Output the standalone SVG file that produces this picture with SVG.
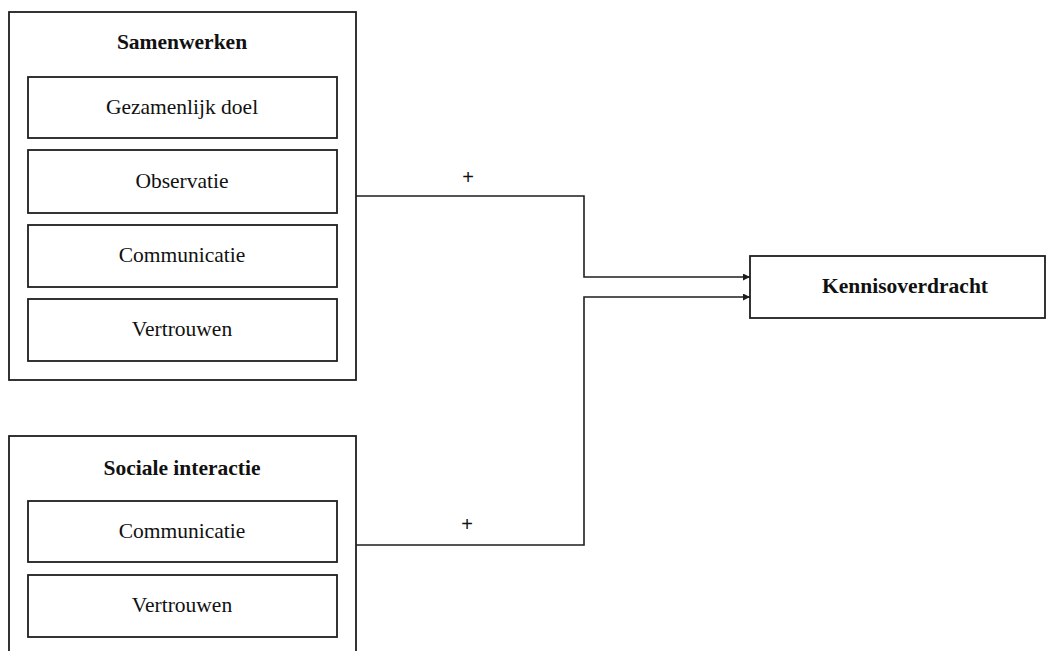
<svg xmlns="http://www.w3.org/2000/svg" width="1047" height="651" viewBox="0 0 1047 651">
<style>
.box{fill:#fff;stroke:#1e1e1e;stroke-width:1.8}
.t{font-family:"Liberation Serif","Times New Roman",serif;font-size:21.5px;fill:#111;text-anchor:middle}
.b{font-weight:bold}
.plus{font-family:"Liberation Sans",Arial,sans-serif;font-size:20px;fill:#111;text-anchor:middle}
.c{fill:none;stroke:#1e1e1e;stroke-width:1.6}
</style>
<defs>
<marker id="arr" viewBox="0 0 10 10" refX="10" refY="5" markerWidth="8" markerHeight="7" markerUnits="userSpaceOnUse" orient="auto">
<path d="M0,0 L10,5 L0,10 z" fill="#1e1e1e"/>
</marker>
</defs>
<rect width="1047" height="651" fill="#fff"/>
<g id="samenwerken">
<rect class="box" x="9" y="12" width="347" height="368"/>
<text class="t b" x="182" y="49">Samenwerken</text>
<rect class="box" x="28" y="77" width="309" height="61"/>
<text class="t" x="182" y="114">Gezamenlijk doel</text>
<rect class="box" x="28" y="150" width="309" height="63"/>
<text class="t" x="182" y="188">Observatie</text>
<rect class="box" x="28" y="225" width="309" height="62"/>
<text class="t" x="182" y="262">Communicatie</text>
<rect class="box" x="28" y="299" width="309" height="62"/>
<text class="t" x="182" y="336">Vertrouwen</text>
</g>
<g id="sociale-interactie">
<rect class="box" x="9" y="436" width="347" height="230"/>
<text class="t b" x="182" y="475">Sociale interactie</text>
<rect class="box" x="28" y="501" width="309" height="61"/>
<text class="t" x="182" y="538">Communicatie</text>
<rect class="box" x="28" y="575" width="309" height="62"/>
<text class="t" x="182" y="612">Vertrouwen</text>
</g>
<g id="kennisoverdracht">
<rect class="box" x="750" y="256" width="295" height="62"/>
<text class="t b" x="905" y="293">Kennisoverdracht</text>
</g>
<g id="connectors">
<polyline class="c" points="356,196 584,196 584,277 750,277" marker-end="url(#arr)"/>
<polyline class="c" points="356,545 584,545 584,297 750,297" marker-end="url(#arr)"/>
<text class="plus" x="468" y="184">+</text>
<text class="plus" x="467" y="531">+</text>
</g>
</svg>
